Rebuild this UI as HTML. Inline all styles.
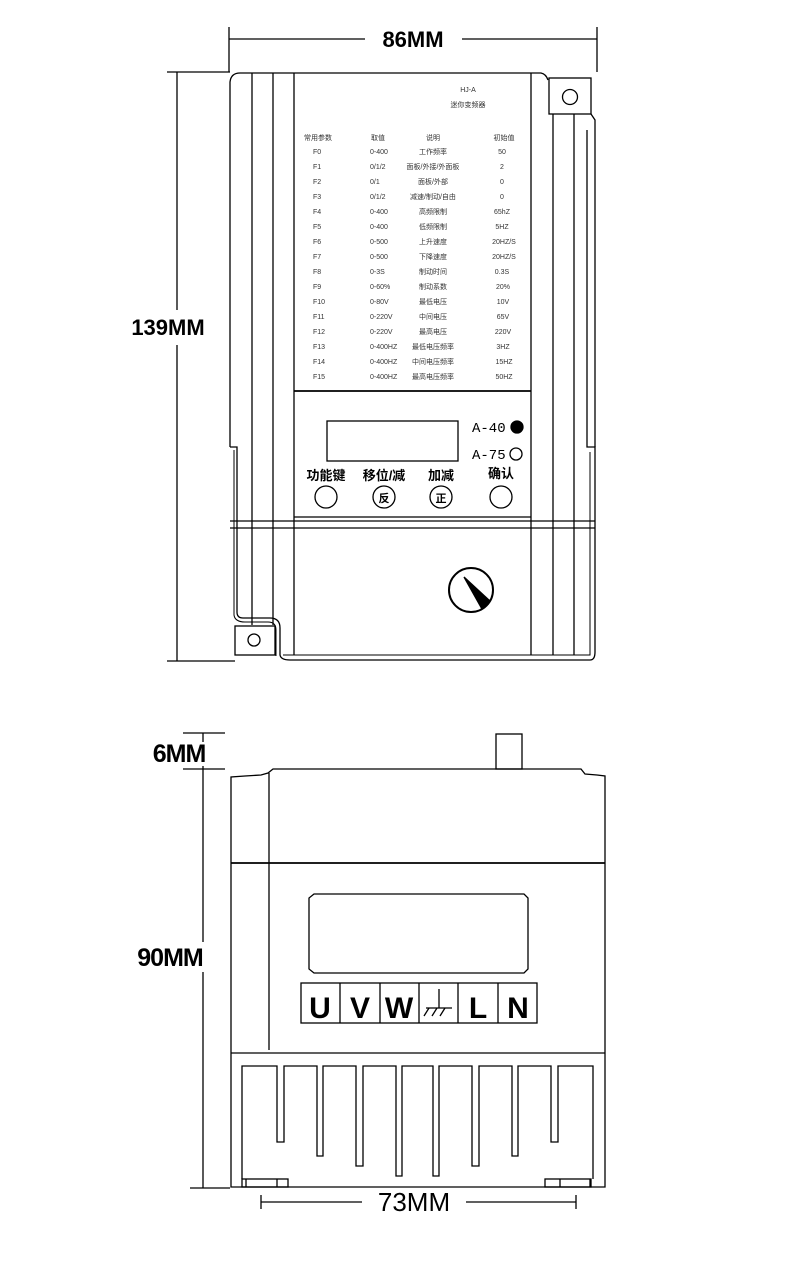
<!DOCTYPE html>
<html><head><meta charset="utf-8"><style>
html,body{margin:0;padding:0;background:#fff;}
svg{display:block;}
.t{font-family:"Liberation Sans","Noto Sans CJK SC",sans-serif;}
</style></head><body>
<svg width="800" height="1270" viewBox="0 0 800 1270" xmlns="http://www.w3.org/2000/svg">
<g stroke="#000" fill="none" stroke-width="1.3">
<!-- top dims -->
<line x1="229" y1="27" x2="229" y2="72"/><line x1="597" y1="27" x2="597" y2="72"/>
<line x1="229" y1="39" x2="365" y2="39"/><line x1="462" y1="39" x2="597" y2="39"/>
<line x1="177" y1="72" x2="177" y2="310"/><line x1="177" y1="345" x2="177" y2="661"/>
<line x1="167" y1="72" x2="230" y2="72"/><line x1="167" y1="661" x2="235" y2="661"/>
<!-- body outline -->
<path d="M230 447 L230 82 Q231 73 240 73 L541 73 Q546 74 548 80"/>
<path d="M230 447 L237 447 L237 612 Q237 618 243 618 L270 618 Q280 618 280 628 L280 655 Q281 660 290 660 L590 660 Q595 660 595 652 L595 447 L587 447 L587 130"/>
<path d="M234 450 L234 615 Q235 622 245 622 L268 622 Q276 622 276 630 L276 656" stroke-width="1"/>
<path d="M283 655 L590 655 L590 452" stroke-width="1"/>
<line x1="252" y1="73" x2="252" y2="625"/><line x1="273" y1="73" x2="273" y2="625"/>
<line x1="294" y1="73" x2="294" y2="655"/><line x1="531" y1="73" x2="531" y2="655"/>
<line x1="553" y1="114" x2="553" y2="655"/><line x1="574" y1="114" x2="574" y2="655"/>
<path d="M591 114 L595 120 L595 447"/>
<rect x="549" y="78" width="42" height="36"/><circle cx="570" cy="97" r="7.5"/>
<rect x="235" y="626" width="40" height="29" fill="#fff"/><circle cx="254" cy="640" r="6"/>
<line x1="294" y1="391" x2="531" y2="391" stroke-width="1.8"/>
<line x1="230" y1="521" x2="595" y2="521"/><line x1="230" y1="528" x2="595" y2="528"/>
<line x1="294" y1="517" x2="531" y2="517"/>
<rect x="327" y="421" width="131" height="40"/>
<circle cx="517" cy="427" r="6" fill="#000"/><circle cx="516" cy="454" r="6"/>
<circle cx="326" cy="497" r="11"/><circle cx="384" cy="497" r="11"/><circle cx="441" cy="497" r="11"/><circle cx="501" cy="497" r="11"/>
<circle cx="471" cy="590" r="22" stroke-width="2"/>
<path d="M464 577 L490 601 L482 609 Z" fill="#000"/>
<!-- bottom view -->
<line x1="203" y1="733" x2="203" y2="742"/><line x1="203" y1="766" x2="203" y2="942"/><line x1="203" y1="972" x2="203" y2="1188"/>
<line x1="183" y1="733" x2="225" y2="733"/><line x1="183" y1="769" x2="225" y2="769"/>
<line x1="190" y1="1188" x2="230" y2="1188"/>
<rect x="496" y="734" width="26" height="35"/>
<path d="M231 1187 L231 777 L245 776 L261 775 L268 773 L273 769 L581 769 L585 774 L597 775 L605 776 L605 1187 Z"/>
<line x1="269" y1="773" x2="269" y2="1050"/>
<line x1="231" y1="863" x2="605" y2="863" stroke-width="1.8"/>
<line x1="231" y1="1053" x2="605" y2="1053"/>
<path d="M314 894 L524 894 L528 898 L528 969 L524 973 L314 973 L309 969 L309 898 Z"/>
<rect x="301" y="983" width="236" height="40"/>
<line x1="340" y1="983" x2="340" y2="1023"/><line x1="380" y1="983" x2="380" y2="1023"/><line x1="419" y1="983" x2="419" y2="1023"/><line x1="458" y1="983" x2="458" y2="1023"/><line x1="498" y1="983" x2="498" y2="1023"/>
<path d="M242 1179 L242 1066 L277 1066 L277 1142 L284 1142 L284 1066 L317 1066 L317 1156 L323 1156 L323 1066 L356 1066 L356 1166 L363 1166 L363 1066 L396 1066 L396 1176 L402 1176 L402 1066 L433 1066 L433 1176 L439 1176 L439 1066 L472 1066 L472 1166 L479 1166 L479 1066 L512 1066 L512 1156 L518 1156 L518 1066 L551 1066 L551 1142 L558 1142 L558 1066 L593 1066 L593 1179"/>
<rect x="242" y="1179" width="46" height="8"/><line x1="246" y1="1179" x2="246" y2="1187"/><line x1="277" y1="1179" x2="277" y2="1187"/>
<rect x="545" y="1179" width="46" height="8"/><line x1="560" y1="1179" x2="560" y2="1187"/><line x1="590" y1="1179" x2="590" y2="1187"/>
<line x1="261" y1="1202" x2="362" y2="1202"/><line x1="466" y1="1202" x2="576" y2="1202"/>
<line x1="261" y1="1195" x2="261" y2="1209"/><line x1="576" y1="1195" x2="576" y2="1209"/>
<!-- ground symbol -->
<line x1="439" y1="989" x2="439" y2="1008"/><line x1="426" y1="1008" x2="452" y2="1008"/>
<line x1="429" y1="1008" x2="424" y2="1016"/><line x1="437" y1="1008" x2="432" y2="1016"/><line x1="445" y1="1008" x2="440" y2="1016"/>
</g>
<g class="t" fill="#000">
<text x="413" y="47" font-size="22" font-weight="bold" text-anchor="middle">86MM</text>
<text x="168" y="335" font-size="22" font-weight="bold" text-anchor="middle">139MM</text>
<text x="179" y="762" font-size="25" font-weight="bold" text-anchor="middle" letter-spacing="-1">6MM</text>
<text x="170" y="966" font-size="25" font-weight="bold" text-anchor="middle" letter-spacing="-1">90MM</text>
<text x="414" y="1211" font-size="26" text-anchor="middle">73MM</text>
<g font-size="30" font-weight="bold" text-anchor="middle">
<text x="320" y="1018">U</text><text x="360" y="1018">V</text><text x="399" y="1018">W</text><text x="478" y="1018">L</text><text x="518" y="1018">N</text>
</g>
<g font-size="13" font-weight="bold" text-anchor="middle">
<text x="326" y="480">功能键</text><text x="384" y="480">移位/减</text><text x="441" y="480">加减</text><text x="501" y="478">确认</text>
</g>
<g font-size="11" font-weight="bold" text-anchor="middle">
<text x="384" y="502">反</text><text x="441" y="502">正</text>
</g>
<text x="472" y="432" font-size="14" font-family="Liberation Mono,monospace">A-40</text>
<text x="472" y="459" font-size="14" font-family="Liberation Mono,monospace">A-75</text>
<g font-size="7" fill="#333">
<text x="468" y="92" text-anchor="middle">HJ-A</text>
<text x="468" y="107" text-anchor="middle">迷你变频器</text>
<text x="304" y="140">常用参数</text><text x="371" y="140">取值</text><text x="433" y="140" text-anchor="middle">说明</text><text x="504" y="140" text-anchor="middle">初始值</text>
</g>
<g font-size="7" fill="#333">
<text x="313" y="154">F0</text><text x="370" y="154">0-400</text><text x="433" y="154" text-anchor="middle">工作频率</text><text x="502" y="154" text-anchor="middle">50</text>
<text x="313" y="169">F1</text><text x="370" y="169">0/1/2</text><text x="433" y="169" text-anchor="middle">面板/外接/外面板</text><text x="502" y="169" text-anchor="middle">2</text>
<text x="313" y="184">F2</text><text x="370" y="184">0/1</text><text x="433" y="184" text-anchor="middle">面板/外部</text><text x="502" y="184" text-anchor="middle">0</text>
<text x="313" y="199">F3</text><text x="370" y="199">0/1/2</text><text x="433" y="199" text-anchor="middle">减速/制动/自由</text><text x="502" y="199" text-anchor="middle">0</text>
<text x="313" y="214">F4</text><text x="370" y="214">0-400</text><text x="433" y="214" text-anchor="middle">高频限制</text><text x="502" y="214" text-anchor="middle">65hZ</text>
<text x="313" y="229">F5</text><text x="370" y="229">0-400</text><text x="433" y="229" text-anchor="middle">低频限制</text><text x="502" y="229" text-anchor="middle">5HZ</text>
<text x="313" y="244">F6</text><text x="370" y="244">0-500</text><text x="433" y="244" text-anchor="middle">上升速度</text><text x="504" y="244" text-anchor="middle">20HZ/S</text>
<text x="313" y="259">F7</text><text x="370" y="259">0-500</text><text x="433" y="259" text-anchor="middle">下降速度</text><text x="504" y="259" text-anchor="middle">20HZ/S</text>
<text x="313" y="274">F8</text><text x="370" y="274">0-3S</text><text x="433" y="274" text-anchor="middle">制动时间</text><text x="502" y="274" text-anchor="middle">0.3S</text>
<text x="313" y="289">F9</text><text x="370" y="289">0-60%</text><text x="433" y="289" text-anchor="middle">制动系数</text><text x="503" y="289" text-anchor="middle">20%</text>
<text x="313" y="304">F10</text><text x="370" y="304">0-80V</text><text x="433" y="304" text-anchor="middle">最低电压</text><text x="503" y="304" text-anchor="middle">10V</text>
<text x="313" y="319">F11</text><text x="370" y="319">0-220V</text><text x="433" y="319" text-anchor="middle">中间电压</text><text x="503" y="319" text-anchor="middle">65V</text>
<text x="313" y="334">F12</text><text x="370" y="334">0-220V</text><text x="433" y="334" text-anchor="middle">最高电压</text><text x="503" y="334" text-anchor="middle">220V</text>
<text x="313" y="349">F13</text><text x="370" y="349">0-400HZ</text><text x="433" y="349" text-anchor="middle">最低电压频率</text><text x="503" y="349" text-anchor="middle">3HZ</text>
<text x="313" y="364">F14</text><text x="370" y="364">0-400HZ</text><text x="433" y="364" text-anchor="middle">中间电压频率</text><text x="504" y="364" text-anchor="middle">15HZ</text>
<text x="313" y="379">F15</text><text x="370" y="379">0-400HZ</text><text x="433" y="379" text-anchor="middle">最高电压频率</text><text x="504" y="379" text-anchor="middle">50HZ</text>
</g>
</g>
</svg>
</body></html>
